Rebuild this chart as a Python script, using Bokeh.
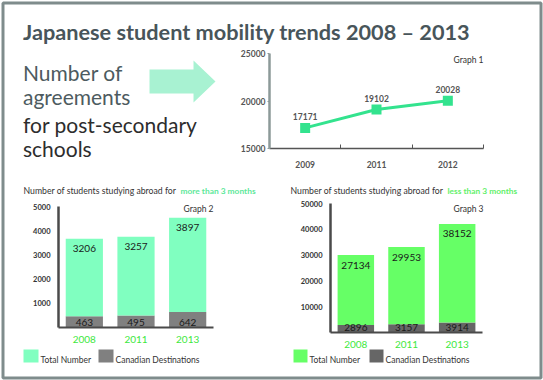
from bokeh.plotting import figure
from bokeh.models import Range1d, FactorRange, FixedTicker, ColumnDataSource
from bokeh.core.properties import value
from bokeh.embed import file_html
from bokeh.resources import INLINE

# ---------------- data ----------------
title_text = "Japanese student mobility trends 2008 \u2013 2013"
lead_lines_a = ["Number of", "agreements"]
lead_lines_b = ["for post-secondary", "schools"]

g1_years = ["2009", "2011", "2012"]
g1_agreements = [17171, 19102, 20028]
g1_ticks = [15000, 20000, 25000]

g2_years = ["2008", "2011", "2013"]
g2_total = [3206, 3257, 3897]
g2_canada = [463, 495, 642]
g2_ticks = [1000, 2000, 3000, 4000, 5000]

g3_years = ["2008", "2011", "2013"]
g3_total = [27134, 29953, 38152]
g3_canada = [2896, 3157, 3914]
g3_ticks = [10000, 20000, 30000, 40000, 50000]

legend_labels = ["Total Number", "Canadian Destinations"]

G2_GREEN, G2_GRAY = "#80ffc0", "#808080"
G3_GREEN, G3_GRAY = "#66ff66", "#666666"

FONT = "Lato"
DARK = "#333333"


def place(x, y):
    return {"position": "absolute", "left": f"{x}px", "top": f"{y}px"}


# ---------------- background canvas ----------------
bg = figure(width=543, height=380, x_range=Range1d(0, 543), y_range=Range1d(380, 0),
            x_axis_type=None, y_axis_type=None, output_backend="svg",
            toolbar_location=None, min_border=0, styles=place(0, 0))
bg.grid.visible = False
bg.outline_line_color = None
bg.background_fill_color = "white"
bg.border_fill_color = "white"

bg.quad(left=[2.5], right=[540.5], top=[2.5], bottom=[377.5], fill_color=None,
        line_color="#7f8c8c", line_width=3)


def btext(x, y, t, size, color, bold=False, align="left"):
    bg.text(x=[x], y=[y], text=[t], text_font=value(FONT), text_font_size=size,
            text_font_style="bold" if bold else "normal", text_color=color,
            text_baseline="alphabetic", text_align=align)


btext(22.5, 31, title_text, "21.7px", "#48555a", bold=True)
for i, t in enumerate(lead_lines_a):
    btext(22.5, 72 + 24 * i, t, "21px", "#4d5b60")
for i, t in enumerate(lead_lines_b):
    btext(22.5, 124 + 24 * i, t, "21px", "#2d2d2d")

bg.patch(x=[149, 193, 193, 215, 193, 193, 149], y=[69, 69, 60, 81, 102, 93, 93],
         fill_color="#a8f2d2", line_color=None)

btext(483, 59, "Graph 1", "8.5px", DARK, align="right")
btext(23, 190, "Number of students studying abroad for", "8.7px", DARK)
btext(180, 190, "more than 3 months", "8.4px", "#5de89a", bold=True)
btext(213, 208, "Graph 2", "8.5px", DARK, align="right")
btext(290, 190, "Number of students studying abroad for", "8.7px", DARK)
btext(447, 190, "less than 3 months", "8.4px", "#62f06a", bold=True)
btext(483, 208, "Graph 3", "8.5px", DARK, align="right")

# legend keys (drawn on the canvas)
for (x0, w, green, gray, x2) in [(23, 15, G2_GREEN, G2_GRAY, 98), (293, 14, G3_GREEN, G3_GRAY, 369)]:
    bg.quad(left=[x0], right=[x0 + w], top=[349], bottom=[362], fill_color=green, line_color=None)
    btext(x0 + w + 2, 359, legend_labels[0], "8.5px", DARK)
    bg.quad(left=[x2], right=[x2 + w], top=[349], bottom=[362], fill_color=gray, line_color=None)
    btext(x2 + w + 2, 359, legend_labels[1], "8.5px", DARK)


def clean(p):
    p.grid.visible = False
    p.outline_line_color = None
    p.background_fill_color = None
    p.border_fill_color = None


# ---------------- graph 1 ----------------
g1 = figure(width=335, height=130, x_range=Range1d(0, len(g1_years)),
            y_range=Range1d(g1_ticks[0], g1_ticks[-1]), output_backend="svg",
            toolbar_location=None, min_border_left=64, min_border_right=57,
            min_border_top=13, min_border_bottom=18, styles=place(205, 40))
clean(g1)
g1_x = [i + 0.5 for i in range(len(g1_years))]
src1 = ColumnDataSource(dict(x=g1_x, y=g1_agreements, lab=[str(v) for v in g1_agreements]))
g1.line("x", "y", source=src1, line_color="#33e38e", line_width=3)
g1.scatter("x", "y", source=src1, marker="square", size=10, fill_color="#33e38e", line_color=None)
g1.text("x", "y", text="lab", source=src1, text_font=value(FONT), text_font_size="8.5px",
        text_font_style="bold", text_color="#555555", text_align="center",
        text_baseline="middle", y_offset=-11)

g1.xaxis.ticker = FixedTicker(ticks=g1_x, minor_ticks=list(range(1, len(g1_years) + 1)))
g1.xaxis.major_label_overrides = {x: y for x, y in zip(g1_x, g1_years)}
g1.xaxis.major_tick_line_color = None
g1.xaxis.minor_tick_in = 4
g1.xaxis.minor_tick_out = 0
g1.xaxis.minor_tick_line_color = "#555555"
g1.xaxis.axis_line_color = "#555555"
g1.xaxis.axis_line_width = 1.5
g1.xaxis.major_label_standoff = 6
g1.yaxis.ticker = FixedTicker(ticks=g1_ticks)
g1.yaxis.minor_tick_line_color = None
g1.yaxis.major_tick_out = 2
g1.yaxis.major_tick_in = 0
g1.yaxis.major_tick_line_color = "#8c9a99"
g1.yaxis.axis_line_color = "#8c9a99"
g1.yaxis.axis_line_width = 2.5
g1.yaxis.major_label_standoff = 2
for ax in (g1.xaxis, g1.yaxis):
    ax.major_label_text_font = FONT
    ax.major_label_text_font_size = "8.5px"
    ax.major_label_text_font_style = "bold"
    ax.major_label_text_color = "#555555"


# ---------------- bar graphs ----------------
def bar_graph(years, total, canada, ticks, frame, green, gray, pos):
    left, right, top, bottom = frame
    p = figure(width=270, height=206, x_range=FactorRange(factors=years),
               y_range=Range1d(0, ticks[-1]), output_backend="svg",
               toolbar_location=None, min_border_left=left, min_border_right=right,
               min_border_top=top, min_border_bottom=bottom, styles=place(*pos))
    clean(p)
    src = ColumnDataSource(dict(years=years, canada=canada, total=total,
                                top=[c + t for c, t in zip(canada, total)],
                                zero=[0] * len(years),
                                tlab=[str(v) for v in total],
                                clab=[str(v) for v in canada]))
    p.vbar_stack(["canada", "total"], x="years", width=0.72,
                 color=[gray, green], line_color=None, source=src)
    p.text("years", "top", text="tlab", source=src, text_font=value(FONT),
           text_font_size="10px", text_color="#1a1a1a", text_align="center",
           text_baseline="middle", y_offset=10)
    p.text("years", "zero", text="clab", source=src, text_font=value(FONT),
           text_font_size="10px", text_color="#1a1a1a", text_align="center",
           text_baseline="middle", y_offset=-5)
    p.yaxis.ticker = FixedTicker(ticks=ticks)
    p.yaxis.major_tick_line_color = None
    p.yaxis.minor_tick_line_color = None
    p.yaxis.major_label_standoff = 2
    p.yaxis.major_label_text_font = FONT
    p.yaxis.major_label_text_font_size = "7.5px"
    p.yaxis.major_label_text_font_style = "bold"
    p.yaxis.major_label_text_color = DARK
    p.yaxis.axis_line_color = "#4a4a4a"
    p.yaxis.axis_line_width = 2.5
    p.xaxis.major_tick_line_color = None
    p.xaxis.axis_line_color = "#4a4a4a"
    p.xaxis.axis_line_width = 2
    p.xaxis.major_label_standoff = 2
    p.xaxis.major_label_text_font = FONT
    p.xaxis.major_label_text_font_size = "10px"
    p.xaxis.major_label_text_color = "#40e840"
    return p


g2 = bar_graph(g2_years, g2_total, g2_canada, g2_ticks, (58, 57, 36, 49),
               G2_GREEN, G2_GRAY, (0, 170))
g3 = bar_graph(g3_years, g3_total, g3_canada, g3_ticks, (60, 58, 33, 44),
               G3_GREEN, G3_GRAY, (270, 170))

open("out.html", "w").write(file_html([bg, g1, g2, g3], INLINE))
